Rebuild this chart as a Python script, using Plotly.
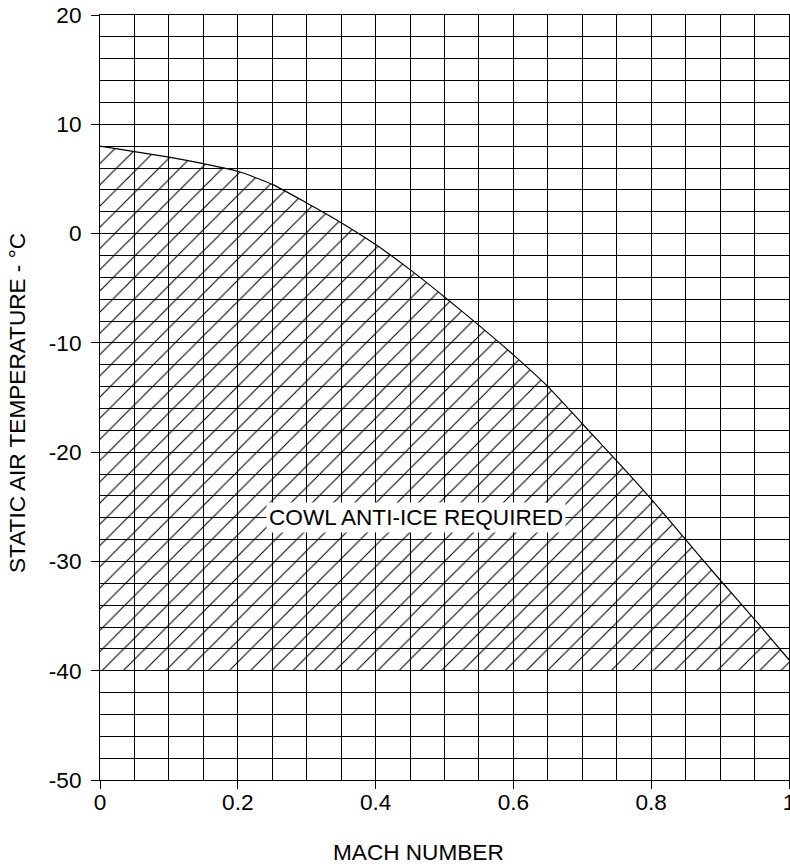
import plotly.graph_objects as go

# Boundary curve of the icing region (Mach number vs static air temperature, deg C)
mach = [0.0, 0.05, 0.10, 0.15, 0.20, 0.25, 0.30, 0.35, 0.40, 0.45, 0.50,
        0.55, 0.60, 0.65, 0.70, 0.75, 0.80, 0.85, 0.90, 0.95, 1.00]
sat = [8.0, 7.5, 7.0, 6.4, 5.7, 4.5, 2.8, 1.0, -1.0, -3.3, -5.8,
       -8.4, -11.1, -14.0, -17.4, -20.8, -24.3, -28.0, -31.7, -35.3, -39.0]
floor_temp = -40.0

x_ticks = [0, 0.2, 0.4, 0.6, 0.8, 1]
x_tick_labels = ["0", "0.2", "0.4", "0.6", "0.8", "1"]
y_ticks = [-50, -40, -30, -20, -10, 0, 10, 20]
y_tick_labels = ["-50", "-40", "-30", "-20", "-10", "0", "10", "20"]

region_label = "COWL ANTI-ICE REQUIRED"
x_title = "MACH NUMBER"
y_title = "STATIC AIR TEMPERATURE - °C"

FONT = "Liberation Sans, Arial, sans-serif"
FS = 22.6

fig = go.Figure()

# hatched region between curve and -40 deg C
poly_x = mach + [mach[-1], mach[0]]
poly_y = sat + [floor_temp, floor_temp]
fig.add_trace(go.Scatter(
    x=poly_x, y=poly_y, mode="lines", fill="toself",
    fillcolor="rgba(0,0,0,0)",
    fillpattern=dict(shape="/", fgcolor="black", size=15, solidity=0.07,
                     fillmode="replace"),
    line=dict(width=0, color="rgba(0,0,0,0)"),
    hoverinfo="skip", showlegend=False,
))

# boundary curve
fig.add_trace(go.Scatter(
    x=mach, y=sat, mode="lines",
    line=dict(color="black", width=1.2, shape="spline", smoothing=0.6),
    showlegend=False,
))

fig.add_annotation(
    x=0.4586, y=-26.0, xref="x", yref="y", text=region_label,
    showarrow=False, bgcolor="white", borderpad=2,
    font=dict(family=FONT, size=FS, color="black"),
)

# axis titles
fig.add_annotation(
    x=(418.5 - 100) / 689, y=0, xref="paper", yref="paper",
    xanchor="center", yanchor="middle", yshift=-72,
    text=x_title, showarrow=False,
    font=dict(family=FONT, size=FS, color="black"),
)
fig.add_annotation(
    x=0, y=(780 - 403.5) / 765, xref="paper", yref="paper",
    xanchor="center", yanchor="middle", xshift=-82.5, textangle=-90,
    text=y_title, showarrow=False,
    font=dict(family=FONT, size=FS, color="black"),
)

axis_common = dict(
    showline=True, linecolor="black", linewidth=1, mirror=True,
    ticks="outside", ticklen=8, tickcolor="black", tickwidth=1,
    showgrid=True, gridcolor="black", gridwidth=1,
    zeroline=False,
    tickfont=dict(family=FONT, size=FS, color="black"),
    ticklabeloverflow="allow",
)

fig.update_xaxes(
    range=[0, 1], tickvals=x_ticks, ticktext=x_tick_labels,
    minor=dict(dtick=0.05, showgrid=True, gridcolor="black", gridwidth=1, ticks=""),
    ticklabelstandoff=-6,
    **axis_common,
)
fig.update_yaxes(
    range=[-50, 20], tickvals=y_ticks, ticktext=y_tick_labels,
    minor=dict(dtick=2, showgrid=True, gridcolor="black", gridwidth=1, ticks=""),
    ticklabelstandoff=5,
    **axis_common,
)

fig.update_layout(
    width=790, height=866,
    margin=dict(l=100, r=1, t=15, b=86, autoexpand=False),
    paper_bgcolor="white", plot_bgcolor="white",
    showlegend=False,
)

fig.write_html("out.html", config={"displayModeBar": False},
               post_script="document.body.style.margin='0';")
